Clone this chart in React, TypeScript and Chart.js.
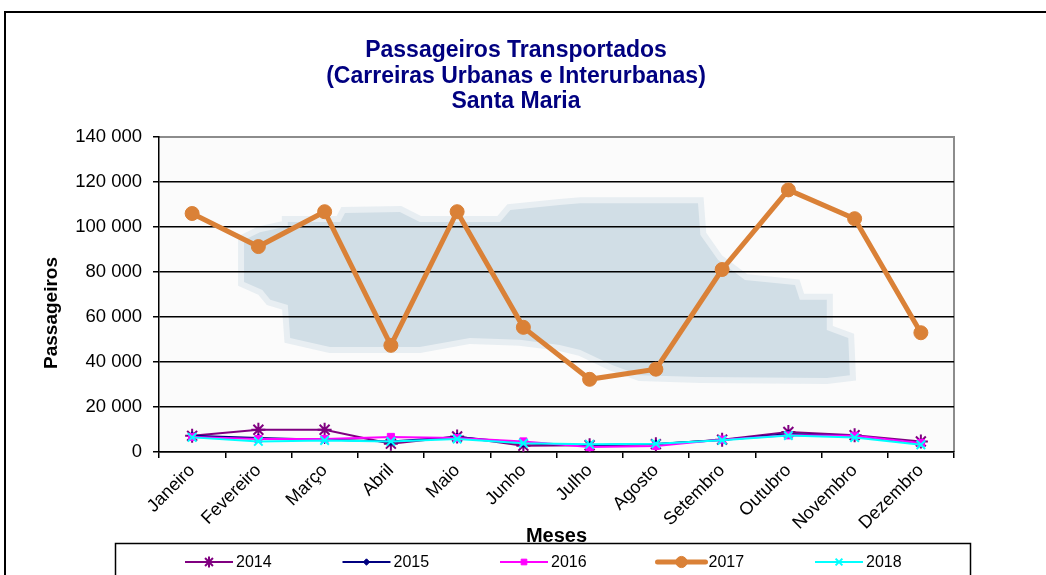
import React, { useEffect, useRef } from 'react';
import { Chart, registerables } from 'chart.js';
import { drawPoint } from 'chart.js/helpers';

Chart.register(...registerables);

const FONT = "'Liberation Sans', Arial, Helvetica, sans-serif";

const MONTHS = ['Janeiro', 'Fevereiro', 'Março', 'Abril', 'Maio', 'Junho', 'Julho', 'Agosto', 'Setembro', 'Outubro', 'Novembro', 'Dezembro'];
const Y2014 = [7200, 9900, 9900, 3700, 6900, 2800, 3000, 3500, 5500, 8900, 7500, 4700];
const Y2015 = [7200, 6200, 5500, 4700, 6700, 3900, 3000, 3600, 5300, 8000, 7100, 4000];
const Y2016 = [6700, 5800, 5800, 6700, 6200, 4700, 2200, 2700, 5500, 7400, 7200, 4000];
const Y2017 = [106000, 91300, 106800, 47400, 106800, 55400, 32300, 36800, 81100, 116500, 103700, 53000];
const Y2018 = [6500, 4700, 5100, 4700, 5800, 3900, 3400, 3700, 5200, 7300, 6400, 3200];
const SERIES_LABELS = ['2014', '2015', '2016', '2017', '2018'];

const TITLE_LINES = ['Passageiros Transportados', '(Carreiras Urbanas e Interurbanas)', 'Santa Maria'];
const Y_TITLE = 'Passageiros';
const X_TITLE = 'Meses';
const Y_MIN = 0;
const Y_MAX = 140000;
const Y_STEP = 20000;

// decorative background map silhouette (fractions of the plot area)
const MAP_OUTLINE: [number, number][] = [
  [0.107, 0.327], [0.127, 0.302], [0.162, 0.283], [0.162, 0.27], [0.228, 0.27], [0.234, 0.241],
  [0.303, 0.238], [0.328, 0.27], [0.429, 0.27], [0.442, 0.232], [0.504, 0.216], [0.53, 0.21],
  [0.678, 0.21], [0.681, 0.311], [0.703, 0.39], [0.737, 0.454], [0.8, 0.47], [0.806, 0.517],
  [0.84, 0.517], [0.84, 0.613], [0.867, 0.638], [0.869, 0.756], [0.84, 0.765], [0.681, 0.762],
  [0.605, 0.756], [0.57, 0.724], [0.53, 0.676], [0.504, 0.66], [0.454, 0.644], [0.391, 0.638],
  [0.328, 0.667], [0.215, 0.667], [0.165, 0.638], [0.162, 0.533], [0.14, 0.517], [0.13, 0.486],
  [0.107, 0.46],
];

const fmt = (v: number) => String(v).replace(/\B(?=(\d{3})+(?!\d))/g, ' ');

const decorPlugin = {
  id: 'decor',
  beforeDraw(chart: any) {
    const { ctx, chartArea: a } = chart;
    ctx.save();
    ctx.fillStyle = '#ffffff';
    ctx.fillRect(0, 0, chart.width, chart.height);
    ctx.fillStyle = '#fbfbfb';
    ctx.fillRect(a.left, a.top, a.width, a.height);
    ctx.beginPath();
    MAP_OUTLINE.forEach(([fx, fy], i) => {
      const x = a.left + fx * a.width;
      const y = a.top + fy * a.height;
      if (i) ctx.lineTo(x, y); else ctx.moveTo(x, y);
    });
    ctx.closePath();
    ctx.strokeStyle = '#e8eef2';
    ctx.lineWidth = 12;
    ctx.lineJoin = 'miter';
    ctx.stroke();
    ctx.fillStyle = '#d1dee6';
    ctx.fill();
    ctx.strokeStyle = '#8c8c8c';
    ctx.lineWidth = 2;
    ctx.beginPath();
    ctx.moveTo(a.left, a.top);
    ctx.lineTo(a.right, a.top);
    ctx.lineTo(a.right, a.bottom);
    ctx.stroke();
    ctx.restore();
  },
  afterDraw(chart: any) {
    const { ctx } = chart;
    ctx.save();
    // outer chart border
    ctx.strokeStyle = '#000';
    ctx.lineWidth = 2;
    ctx.strokeRect(5, 12, 1100, 700);
    // title
    ctx.fillStyle = '#000080';
    ctx.font = `bold 23px ${FONT}`;
    ctx.textAlign = 'center';
    ctx.textBaseline = 'middle';
    TITLE_LINES.forEach((t, i) => ctx.fillText(t, 516, 51 + i * 25.5));
    // y title
    ctx.save();
    ctx.translate(52, 313);
    ctx.rotate(-Math.PI / 2);
    ctx.fillStyle = '#000';
    ctx.font = `bold 19px ${FONT}`;
    ctx.fillText(Y_TITLE, 0, 0);
    ctx.restore();
    // legend
    ctx.fillStyle = '#fff';
    ctx.fillRect(115, 543, 855, 40);
    ctx.strokeStyle = '#000';
    ctx.lineWidth = 1.5;
    ctx.strokeRect(115.5, 543.5, 855, 60);
    const yc = 562;
    chart.data.datasets.forEach((ds: any, i: number) => {
      const x0 = 185 + i * 157.5;
      ctx.strokeStyle = ds.borderColor;
      ctx.fillStyle = ds.backgroundColor;
      ctx.lineWidth = ds.borderWidth;
      ctx.lineCap = ds.borderWidth > 3 ? 'round' : 'butt';
      ctx.beginPath();
      ctx.moveTo(x0, yc);
      ctx.lineTo(x0 + 48, yc);
      ctx.stroke();
      ctx.lineWidth = ds.pointBorderWidth || 1;
      drawPoint(ctx, { pointStyle: ds.pointStyle, radius: ds.pointRadius * 0.8, rotation: 0, borderWidth: ds.pointBorderWidth || 1 }, x0 + 24, yc);
      ctx.fillStyle = '#000';
      ctx.font = `16px ${FONT}`;
      ctx.textAlign = 'left';
      ctx.textBaseline = 'middle';
      ctx.fillText(ds.label, x0 + 51, yc + 1);
    });
    ctx.restore();
  },
};

export default function App() {
  const ref = useRef<HTMLCanvasElement>(null);
  useEffect(() => {
    if (!ref.current) return;
    const mk = (label: string, data: number[], color: string, style: string, radius: number, width: number, pbw: number, order: number) => ({
      label, data, borderColor: color, backgroundColor: color, pointBackgroundColor: color, pointBorderColor: color,
      borderWidth: width, pointStyle: style, pointRadius: radius, pointBorderWidth: pbw, order, tension: 0,
    });
    const chart = new Chart(ref.current, {
      type: 'line',
      data: {
        labels: MONTHS,
        datasets: [
          mk(SERIES_LABELS[0], Y2014, '#800080', 'star', 7, 2, 2, 4),
          mk(SERIES_LABELS[1], Y2015, '#000080', 'rectRot', 4, 2, 1, 3),
          mk(SERIES_LABELS[2], Y2016, '#ff00ff', 'rect', 5, 2, 1, 2),
          mk(SERIES_LABELS[3], Y2017, '#da8137', 'circle', 7, 5, 1, 0),
          mk(SERIES_LABELS[4], Y2018, '#00ffff', 'crossRot', 6, 2, 2, 1),
        ] as any,
      },
      options: {
        responsive: false,
        animation: false,
        layout: { padding: { left: 0, top: 137, right: 92, bottom: 27 } },
        plugins: { legend: { display: false }, title: { display: false }, tooltip: { enabled: false } },
        scales: {
          x: {
            offset: true,
            grid: { offset: true, drawOnChartArea: false, drawTicks: true, tickLength: 6, color: '#000', lineWidth: 1.5 },
            border: { color: '#000', width: 1.5 },
            ticks: { minRotation: 45, maxRotation: 45, autoSkip: false, color: '#000', padding: 2, font: { family: FONT, size: 18 } },
            title: { display: true, text: X_TITLE, color: '#000', padding: 0, font: { family: FONT, size: 20, weight: 'bold' } },
            afterFit: (s: any) => { s.height = 96; },
          },
          y: {
            min: Y_MIN,
            max: Y_MAX,
            ticks: { stepSize: Y_STEP, color: '#000', padding: 11, font: { family: FONT, size: 18.5 }, callback: (v: any) => fmt(Number(v)) },
            grid: {
              color: (c: any) => (c.tick && c.tick.value === Y_MAX ? '#8c8c8c' : '#000'),
              tickColor: '#000', lineWidth: 1.5, tickLength: 6,
            },
            border: { color: '#000', width: 1.5 },
            afterFit: (s: any) => { s.width = 159; },
          },
        },
      } as any,
      plugins: [decorPlugin],
    });
    return () => chart.destroy();
  }, []);
  return (
    <div style={{ position: 'absolute', left: 0, top: 0, width: 1046, height: 575 }}>
      <canvas ref={ref} width={1046} height={575} />
    </div>
  );
}
